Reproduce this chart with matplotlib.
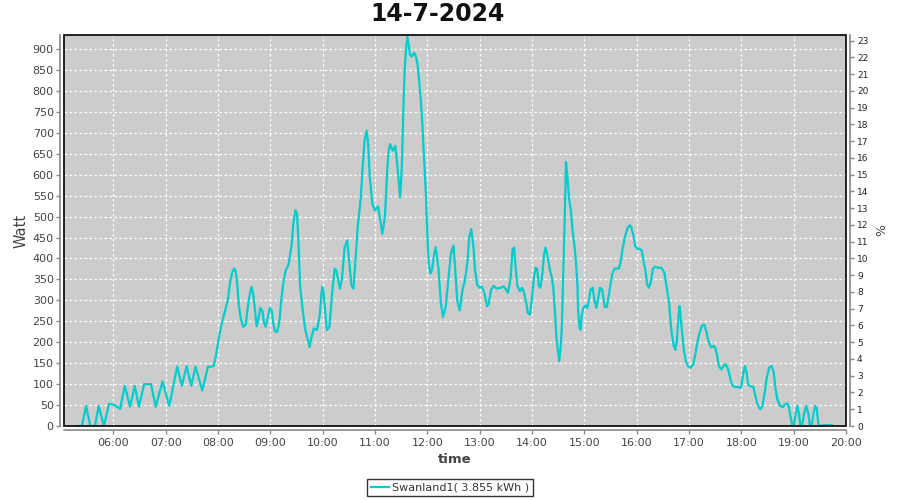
import matplotlib
matplotlib.use("Agg")
import matplotlib.pyplot as plt
from matplotlib.patches import Rectangle
from matplotlib.ticker import FixedLocator, FuncFormatter

title = "14-7-2024"
series_name = "Swanland1( 3.855 kWh )"

hours = [
    5.31, 5.40, 5.48, 5.56, 5.65, 5.72, 5.82, 5.92, 6.02, 6.13, 6.22, 6.32, 6.41, 6.49,
    6.59, 6.72, 6.81, 6.94, 7.07, 7.22, 7.31, 7.40, 7.49, 7.57, 7.70, 7.81, 7.87, 7.92,
    7.97, 8.01, 8.06, 8.11, 8.15, 8.19, 8.23, 8.27, 8.31, 8.34, 8.37, 8.40, 8.44, 8.48,
    8.53, 8.56, 8.60, 8.64, 8.67, 8.71, 8.74, 8.77, 8.81, 8.85, 8.88, 8.91, 8.95, 8.99,
    9.03, 9.06, 9.09, 9.13, 9.17, 9.21, 9.25, 9.29, 9.35, 9.41, 9.44, 9.48, 9.51, 9.54,
    9.57, 9.62, 9.67, 9.75, 9.79, 9.83, 9.89, 9.94, 9.99, 10.02, 10.08, 10.13, 10.18,
    10.23, 10.26, 10.33, 10.37, 10.42, 10.47, 10.50, 10.55, 10.59, 10.63, 10.67, 10.73,
    10.76, 10.80, 10.84, 10.87, 10.90, 10.95, 11.00, 11.06, 11.10, 11.14, 11.19, 11.23,
    11.26, 11.29, 11.34, 11.39, 11.43, 11.48, 11.51, 11.55, 11.57, 11.60, 11.62, 11.65,
    11.67, 11.70, 11.75, 11.78, 11.81, 11.84, 11.87, 11.90, 11.92, 11.94, 11.97, 11.99,
    12.01, 12.03, 12.06, 12.09, 12.13, 12.16, 12.21, 12.26, 12.30, 12.35, 12.40, 12.45,
    12.50, 12.53, 12.57, 12.62, 12.67, 12.72, 12.77, 12.80, 12.84, 12.88, 12.91, 12.95,
    13.00, 13.04, 13.09, 13.14, 13.17, 13.22, 13.27, 13.33, 13.40, 13.46, 13.51, 13.54,
    13.59, 13.63, 13.66, 13.68, 13.72, 13.77, 13.81, 13.84, 13.89, 13.92, 13.96, 14.00,
    14.04, 14.07, 14.10, 14.13, 14.16, 14.20, 14.23, 14.26, 14.29, 14.34, 14.38, 14.41,
    14.44, 14.47, 14.50, 14.52, 14.55, 14.57, 14.59, 14.61, 14.63, 14.65, 14.68, 14.71,
    14.74, 14.78, 14.82, 14.85, 14.87, 14.88, 14.91, 14.93, 14.95, 14.98, 15.02, 15.06,
    15.09, 15.12, 15.16, 15.19, 15.23, 15.26, 15.30, 15.34, 15.37, 15.39, 15.43, 15.47,
    15.51, 15.54, 15.58, 15.62, 15.66, 15.69, 15.73, 15.78, 15.83, 15.87, 15.90, 15.94,
    15.97, 16.02, 16.06, 16.10, 16.13, 16.17, 16.20, 16.24, 16.28, 16.31, 16.35, 16.40,
    16.47, 16.53, 16.58, 16.62, 16.65, 16.67, 16.71, 16.74, 16.77, 16.80, 16.82, 16.84,
    16.87, 16.90, 16.94, 16.98, 17.03, 17.08, 17.12, 17.16, 17.20, 17.25, 17.29, 17.33,
    17.37, 17.42, 17.47, 17.50, 17.54, 17.57, 17.62, 17.66, 17.70, 17.75, 17.80, 17.84,
    17.89, 17.94, 17.99, 18.02, 18.05, 18.07, 18.10, 18.13, 18.17, 18.23, 18.27, 18.31,
    18.36, 18.40, 18.44, 18.48, 18.53, 18.58, 18.62, 18.65, 18.69, 18.74, 18.79, 18.83,
    18.88, 18.91, 18.94, 18.97, 19.00, 19.04, 19.07, 19.10, 19.13, 19.16, 19.20, 19.24,
    19.28, 19.31, 19.34, 19.38, 19.41, 19.44, 19.47, 19.50, 19.60, 19.73,
]

watts = [
    0, 0, 48, 0, 0, 48, 0, 53, 50, 41, 96, 46, 96, 46,
    100, 100, 46, 106, 48, 142, 96, 143, 96, 142, 85, 142, 141, 144,
    174, 206, 238, 262, 282, 302, 342, 366, 376, 370, 334, 286, 254, 237,
    242, 274, 310, 332, 318, 274, 238, 254, 282, 274, 246, 237, 258, 282,
    274, 242, 226, 224, 246, 302, 342, 370, 386, 435, 483, 515, 507, 435,
    332, 276, 229, 189, 213, 233, 229, 260, 332, 316, 229, 237, 316,
    376, 372, 328, 352, 427, 443, 403, 336, 328, 403, 475, 546,
    610, 681, 705, 673, 594, 530, 515, 524, 491, 459, 499, 602,
    657, 673, 657, 669, 618, 546, 610, 787, 858, 910, 929, 905,
    886, 882, 891, 883, 866, 830, 787, 731, 683, 634, 562, 495,
    427, 387, 364, 372, 411, 427, 380, 292, 260, 284, 348, 411,
    431, 380, 300, 276, 324, 348, 395, 451, 470, 430, 374, 338,
    330, 333, 318, 286, 290, 326, 334, 328, 330, 333, 325, 318,
    350, 422, 426, 390, 334, 322, 330, 322, 294, 270, 266, 306,
    358, 378, 374, 334, 330, 366, 410, 426, 410, 374, 354, 326,
    270, 206, 175, 155, 191, 238, 326, 422, 517, 630, 590, 541,
    517, 462, 422, 374, 330, 278, 234, 230, 262, 282, 288, 282,
    302, 326, 330, 302, 282, 302, 330, 326, 302, 284, 284, 314,
    346, 366, 376, 376, 376, 390, 422, 454, 474, 479, 474, 454,
    430, 422, 424, 418, 394, 370, 338, 330, 350, 376, 380, 378,
    378, 366, 326, 294, 246, 222, 190, 182, 206, 262, 286, 262,
    222, 182, 155, 143, 139, 147, 171, 199, 222, 240, 242, 226,
    203, 188, 191, 187, 167, 143, 135, 143, 148, 135, 107, 95,
    93, 93, 91, 111, 135, 143, 127, 99, 95, 93, 71, 51,
    40, 46, 74, 111, 139, 143, 127, 91, 63, 48, 45, 51,
    54, 46, 22, 2, 0, 30, 48, 30, 0, 0, 30, 48,
    30, 0, 0, 30, 48, 42, 6, 0, 2, 2,
]

hour_ticks = list(range(6, 21))
watt_ticks = list(range(0, 901, 50))
pct_ticks = list(range(0, 24))

W, H = 900, 500
fig = plt.figure(figsize=(9, 5), dpi=100)
L, R, T, B = 64, 846, 35, 426
ax = fig.add_axes([L / W, 1 - B / H, (R - L) / W, (B - T) / H])
ax.set_facecolor("#cccccc")

line_color = "#00cccc"
ax.plot(hours, watts, color=line_color, lw=1.6, solid_joinstyle="round", zorder=3,
        label=series_name)

ymax = 933.5
ax.set_xlim(5.058, 20.0)
ax.set_ylim(0, ymax)

ax.xaxis.set_major_locator(FixedLocator(hour_ticks))
ax.xaxis.set_major_formatter(FuncFormatter(lambda v, p: f"{int(round(v)):02d}:00"))
ax.yaxis.set_major_locator(FixedLocator(watt_ticks))

ax.grid(True, color="white", linestyle=(0, (2, 2)), linewidth=0.9, zorder=1)
ax.set_axisbelow(True)

gray = "#888888"
off = 2.9
for s in ["left", "bottom"]:
    ax.spines[s].set_position(("outward", off))
    ax.spines[s].set_color(gray)
    ax.spines[s].set_linewidth(1.2)
for s in ["top", "right"]:
    ax.spines[s].set_visible(False)

ax.tick_params(axis="both", direction="out", length=3, width=1, color=gray,
               labelcolor="#444444", labelsize=8)
ax.tick_params(axis="y", pad=1.5)
ax.tick_params(axis="x", pad=2.5)

ax.add_patch(Rectangle((0, 0), 1, 1, transform=ax.transAxes, fill=False,
                       edgecolor="black", lw=1.2, zorder=5, clip_on=False))

ax2 = ax.twinx()
ax2.set_ylim(0, ymax / 40.0)
ax2.yaxis.set_major_locator(FixedLocator(pct_ticks))
for s in ["left", "top", "bottom"]:
    ax2.spines[s].set_visible(False)
ax2.spines["right"].set_position(("outward", off))
ax2.spines["right"].set_color(gray)
ax2.spines["right"].set_linewidth(1.2)
ax2.tick_params(axis="y", direction="out", length=3, width=1, color=gray,
                labelcolor="#222222", labelsize=6.5, pad=2)
ax2.set_ylabel("%", fontsize=9, color="#444444", labelpad=5)

ax.set_ylabel("Watt", fontsize=10.5, color="#444444", labelpad=3)
ax.set_xlabel("time", fontsize=9.5, fontweight="bold", color="#444444", labelpad=4)

fig.text(0.486, 1 - 14 / H, title, ha="center", va="center", fontsize=17,
         fontweight="bold", color="#111111")

leg = fig.legend(loc="center", bbox_to_anchor=(0.5, 1 - 487.5 / H), fontsize=8,
                 frameon=True, fancybox=False, edgecolor="black", handlelength=1.6,
                 handletextpad=0.3, borderpad=0.35, borderaxespad=0)
leg.get_frame().set_linewidth(1.0)
for t in leg.get_texts():
    t.set_color("#333333")

fig.savefig("out.png", dpi=100)
